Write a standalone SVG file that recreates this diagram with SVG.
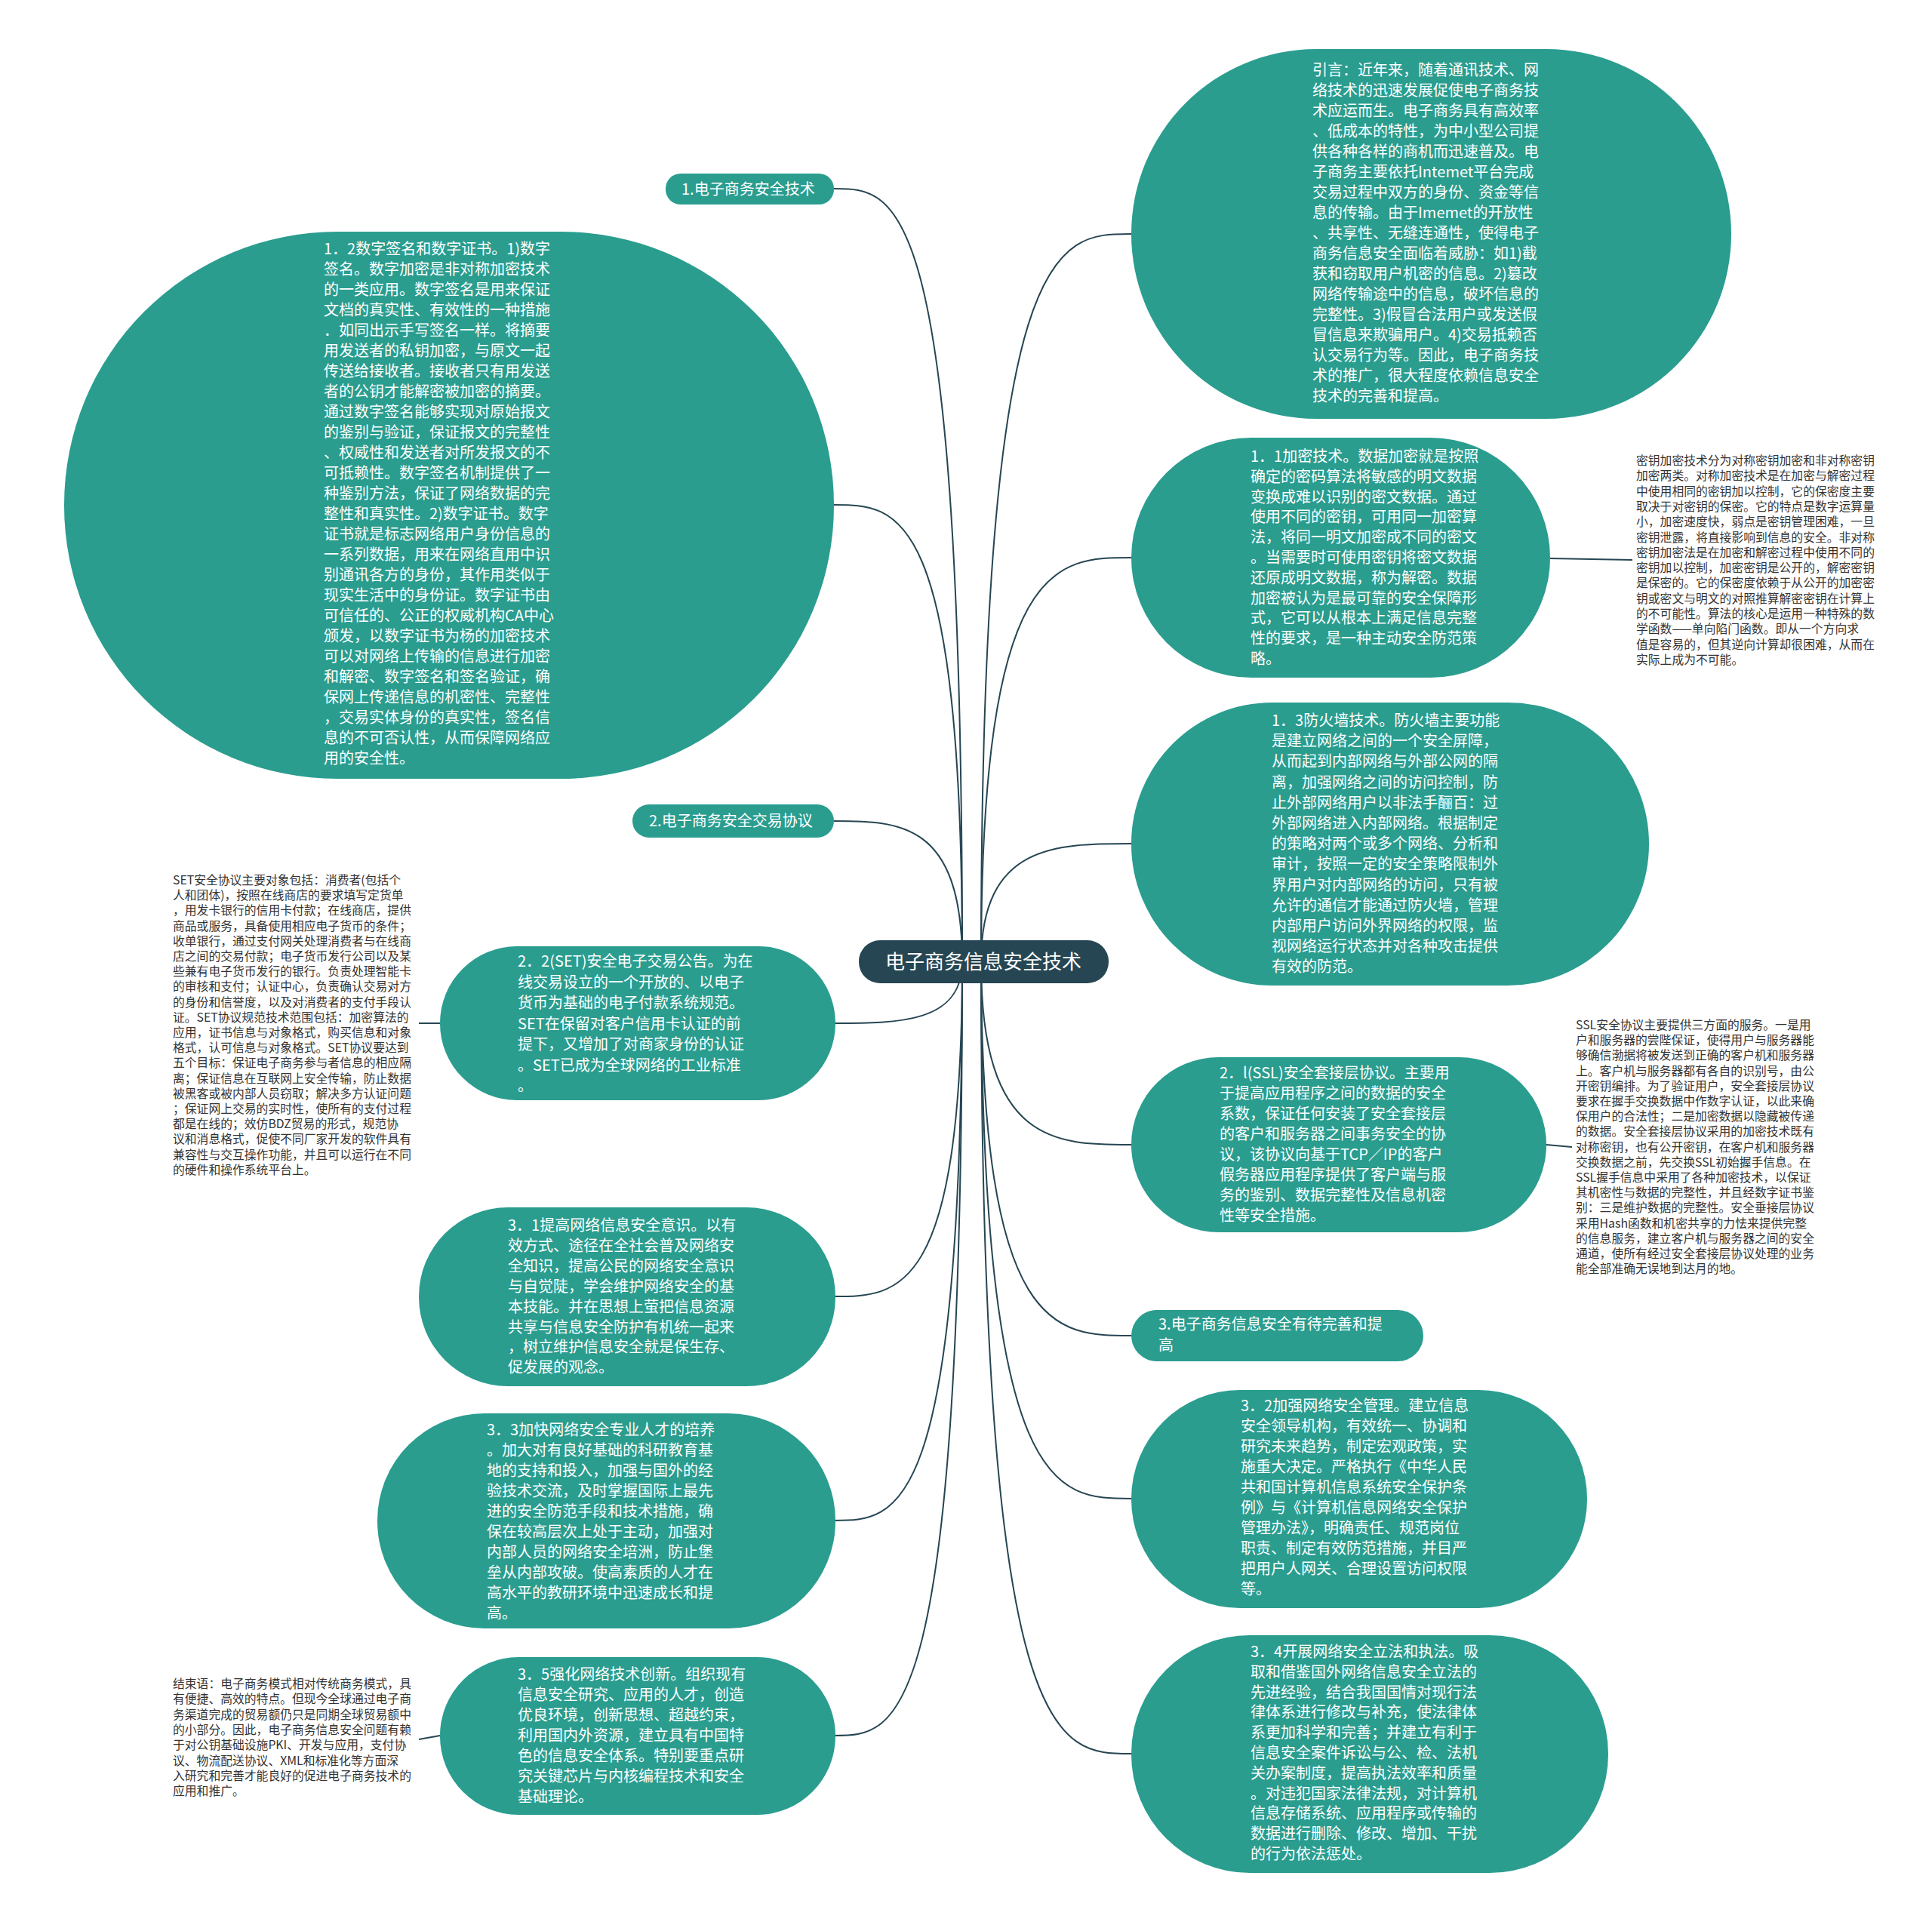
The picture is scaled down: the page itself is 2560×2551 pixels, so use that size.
<svg xmlns="http://www.w3.org/2000/svg" width="2560" height="2551" viewBox="0 0 2560 2551">
<style>
.node{fill:#2a9d8f}
.root{fill:#264653}
.t{font-family:"Noto Sans CJK SC","Noto Sans",sans-serif;font-size:20px;fill:#ffffff}
.rt{font-family:"Noto Sans CJK SC","Noto Sans",sans-serif;font-size:26px;fill:#ffffff}
.n{font-family:"Noto Sans CJK SC","Noto Sans",sans-serif;font-size:15.8px;fill:#333333}
.edge{fill:none;stroke:#264653;stroke-width:2}
</style>
<rect width="2560" height="2551" fill="#ffffff"/>
<g id="connectors">
<path class="edge" d="M1300 1275 C1300 310 1400 310 1499 310"/>
<path class="edge" d="M1300 1275 C1300 739 1400 739 1499 739"/>
<path class="edge" d="M1300 1275 C1300 1118 1400 1118 1499 1118"/>
<path class="edge" d="M1300 1275 C1300 1517 1400 1517 1499 1517"/>
<path class="edge" d="M1300 1275 C1300 1770 1400 1770 1499 1770"/>
<path class="edge" d="M1300 1275 C1300 1986 1400 1986 1499 1986"/>
<path class="edge" d="M1300 1275 C1300 2324 1400 2324 1499 2324"/>
<path class="edge" d="M1275 1275 C1275 250 1190 250 1105 250"/>
<path class="edge" d="M1275 1275 C1275 669 1190 669 1105 669"/>
<path class="edge" d="M1275 1275 C1275 1088 1190 1088 1105 1088"/>
<path class="edge" d="M1275 1275 C1275 1356 1190 1356 1105 1356"/>
<path class="edge" d="M1275 1275 C1275 1718 1190 1718 1105 1718"/>
<path class="edge" d="M1275 1275 C1275 2015 1190 2015 1105 2015"/>
<path class="edge" d="M1275 1275 C1275 2300 1190 2300 1105 2300"/>
<path class="edge" d="M2054 740 L2163 742"/>
<path class="edge" d="M2049 1517 L2083 1520"/>
<path class="edge" d="M555 1356 L583 1356"/>
<path class="edge" d="M555 2305 L583 2300"/>
</g>
<g id="root">
<rect class="root" x="1138" y="1246" width="331" height="57" rx="28"/>
<text class="rt" x="1303" y="1284" text-anchor="middle">电子商务信息安全技术</text>
</g>
<g id="intro">
<rect class="node" x="1499" y="65" width="795" height="490" rx="245"/>
<text class="t" x="1739" y="100"><tspan x="1739">引言：近年来，随着通讯技术、网</tspan><tspan x="1739" dy="27">络技术的迅速发展促使电子商务技</tspan><tspan x="1739" dy="27">术应运而生。电子商务具有高效率</tspan><tspan x="1739" dy="27">、低成本的特性，为中小型公司提</tspan><tspan x="1739" dy="27">供各种各样的商机而迅速普及。电</tspan><tspan x="1739" dy="27">子商务主要依托Intemet平台完成</tspan><tspan x="1739" dy="27">交易过程中双方的身份、资金等信</tspan><tspan x="1739" dy="27">息的传输。由于Imemet的开放性</tspan><tspan x="1739" dy="27">、共享性、无缝连通性，使得电子</tspan><tspan x="1739" dy="27">商务信息安全面临着威胁：如1)截</tspan><tspan x="1739" dy="27">获和窃取用户机密的信息。2)篡改</tspan><tspan x="1739" dy="27">网络传输途中的信息，破坏信息的</tspan><tspan x="1739" dy="27">完整性。3)假冒合法用户或发送假</tspan><tspan x="1739" dy="27">冒信息来欺骗用户。4)交易抵赖否</tspan><tspan x="1739" dy="27">认交易行为等。因此，电子商务技</tspan><tspan x="1739" dy="27">术的推广，很大程度依赖信息安全</tspan><tspan x="1739" dy="27">技术的完善和提高。</tspan></text>
</g>
<g id="n11">
<rect class="node" x="1499" y="580" width="555" height="318" rx="159"/>
<text class="t" x="1657" y="612"><tspan x="1657">1．1加密技术。数据加密就是按照</tspan><tspan x="1657" dy="26.8">确定的密码算法将敏感的明文数据</tspan><tspan x="1657" dy="26.8">变换成难以识别的密文数据。通过</tspan><tspan x="1657" dy="26.8">使用不同的密钥，可用同一加密算</tspan><tspan x="1657" dy="26.8">法，将同一明文加密成不同的密文</tspan><tspan x="1657" dy="26.8">。当需要时可使用密钥将密文数据</tspan><tspan x="1657" dy="26.8">还原成明文数据，称为解密。数据</tspan><tspan x="1657" dy="26.8">加密被认为是最可靠的安全保障形</tspan><tspan x="1657" dy="26.8">式，它可以从根本上满足信息完整</tspan><tspan x="1657" dy="26.8">性的要求，是一种主动安全防范策</tspan><tspan x="1657" dy="26.8">略。</tspan></text>
</g>
<g id="note11">
<text class="n" x="2168" y="616"><tspan x="2168">密钥加密技术分为对称密钥加密和非对称密钥</tspan><tspan x="2168" dy="20.3">加密两类。对称加密技术是在加密与解密过程</tspan><tspan x="2168" dy="20.3">中使用相同的密钥加以控制，它的保密度主要</tspan><tspan x="2168" dy="20.3">取决于对密钥的保密。它的特点是数字运算量</tspan><tspan x="2168" dy="20.3">小，加密速度快，弱点是密钥管理困难，一旦</tspan><tspan x="2168" dy="20.3">密钥泄露，将直接影响到信息的安全。非对称</tspan><tspan x="2168" dy="20.3">密钥加密法是在加密和解密过程中使用不同的</tspan><tspan x="2168" dy="20.3">密钥加以控制，加密密钥是公开的，解密密钥</tspan><tspan x="2168" dy="20.3">是保密的。它的保密度依赖于从公开的加密密</tspan><tspan x="2168" dy="20.3">钥或密文与明文的对照推算解密密钥在计算上</tspan><tspan x="2168" dy="20.3">的不可能性。算法的核心是运用一种特殊的数</tspan><tspan x="2168" dy="20.3">学函数——单向陷门函数。即从一个方向求</tspan><tspan x="2168" dy="20.3">值是容易的，但其逆向计算却很困难，从而在</tspan><tspan x="2168" dy="20.3">实际上成为不可能。</tspan></text>
</g>
<g id="n13">
<rect class="node" x="1499" y="931" width="686" height="375" rx="187"/>
<text class="t" x="1685" y="962"><tspan x="1685">1．3防火墙技术。防火墙主要功能</tspan><tspan x="1685" dy="27.2">是建立网络之间的一个安全屏障，</tspan><tspan x="1685" dy="27.2">从而起到内部网络与外部公网的隔</tspan><tspan x="1685" dy="27.2">离，加强网络之间的访问控制，防</tspan><tspan x="1685" dy="27.2">止外部网络用户以非法手酾百：过</tspan><tspan x="1685" dy="27.2">外部网络进入内部网络。根据制定</tspan><tspan x="1685" dy="27.2">的策略对两个或多个网络、分析和</tspan><tspan x="1685" dy="27.2">审计，按照一定的安全策略限制外</tspan><tspan x="1685" dy="27.2">界用户对内部网络的访问，只有被</tspan><tspan x="1685" dy="27.2">允许的通信才能通过防火墙，管理</tspan><tspan x="1685" dy="27.2">内部用户访问外界网络的权限，监</tspan><tspan x="1685" dy="27.2">视网络运行状态并对各种攻击提供</tspan><tspan x="1685" dy="27.2">有效的防范。</tspan></text>
</g>
<g id="n21">
<rect class="node" x="1499" y="1401" width="550" height="232" rx="116"/>
<text class="t" x="1616" y="1429"><tspan x="1616">2．l(SSL)安全套接层协议。主要用</tspan><tspan x="1616" dy="27">于提高应用程序之间的数据的安全</tspan><tspan x="1616" dy="27">系数，保证任何安装了安全套接层</tspan><tspan x="1616" dy="27">的客户和服务器之间事务安全的协</tspan><tspan x="1616" dy="27">议，该协议向基于TCP／IP的客户</tspan><tspan x="1616" dy="27">假务器应用程序提供了客户端与服</tspan><tspan x="1616" dy="27">务的鉴别、数据完整性及信息机密</tspan><tspan x="1616" dy="27">性等安全措施。</tspan></text>
</g>
<g id="note21">
<text class="n" x="2088" y="1364"><tspan x="2088">SSL安全协议主要提供三方面的服务。一是用</tspan><tspan x="2088" dy="20.2">户和服务器的尝陛保证，使得用户与服务器能</tspan><tspan x="2088" dy="20.2">够确信渤据将被发送到正确的客户机和服务器</tspan><tspan x="2088" dy="20.2">上。客户机与服务器都有各自的识别号，由公</tspan><tspan x="2088" dy="20.2">开密钥编排。为了验证用户，安全套接层协议</tspan><tspan x="2088" dy="20.2">要求在握手交换数据中作数字认证，以此来确</tspan><tspan x="2088" dy="20.2">保用户的合法性；二是加密数据以隐藏被传递</tspan><tspan x="2088" dy="20.2">的数据。安全套接层协议采用的加密技术既有</tspan><tspan x="2088" dy="20.2">对称密钥，也有公开密钥，在客户机和服务器</tspan><tspan x="2088" dy="20.2">交换数据之前，先交换SSL初始握手信息。在</tspan><tspan x="2088" dy="20.2">SSL握手信息中采用了各种加密技术，以保证</tspan><tspan x="2088" dy="20.2">其机密性与数据的完整性，并且经数字证书鉴</tspan><tspan x="2088" dy="20.2">别：三是维护数据的完整性。安全垂接层协议</tspan><tspan x="2088" dy="20.2">采用Hash函数和机密共享的力怯来提供完整</tspan><tspan x="2088" dy="20.2">的信息服务，建立客户机与服务器之间的安全</tspan><tspan x="2088" dy="20.2">通道，使所有经过安全套接层协议处理的业务</tspan><tspan x="2088" dy="20.2">能全部准确无误地到达月的地。</tspan></text>
</g>
<g id="b3">
<rect class="node" x="1499" y="1736" width="387" height="68" rx="34"/>
<text class="t" x="1535" y="1762"><tspan x="1535">3.电子商务信息安全有待完善和提</tspan><tspan x="1535" dy="28">高</tspan></text>
</g>
<g id="n32">
<rect class="node" x="1499" y="1842" width="604" height="289" rx="144"/>
<text class="t" x="1644" y="1870"><tspan x="1644">3．2加强网络安全管理。建立信息</tspan><tspan x="1644" dy="27">安全领导机构，有效统一、协调和</tspan><tspan x="1644" dy="27">研究未来趋势，制定宏观政策，实</tspan><tspan x="1644" dy="27">施重大决定。严格执行《中华人民</tspan><tspan x="1644" dy="27">共和国计算机信息系统安全保护条</tspan><tspan x="1644" dy="27">例》与《计算机信息网络安全保护</tspan><tspan x="1644" dy="27">管理办法》，明确责任、规范岗位</tspan><tspan x="1644" dy="27">职责、制定有效防范措施，并目严</tspan><tspan x="1644" dy="27">把用户人网关、合理设置访问权限</tspan><tspan x="1644" dy="27">等。</tspan></text>
</g>
<g id="n34">
<rect class="node" x="1499" y="2167" width="632" height="315" rx="157"/>
<text class="t" x="1657" y="2196"><tspan x="1657">3．4开展网络安全立法和执法。吸</tspan><tspan x="1657" dy="26.8">取和借鉴国外网络信息安全立法的</tspan><tspan x="1657" dy="26.8">先进经验，结合我国国情对现行法</tspan><tspan x="1657" dy="26.8">律体系进行修改与补充，使法律体</tspan><tspan x="1657" dy="26.8">系更加科学和完善；并建立有利于</tspan><tspan x="1657" dy="26.8">信息安全案件诉讼与公、检、法机</tspan><tspan x="1657" dy="26.8">关办案制度，提高执法效率和质量</tspan><tspan x="1657" dy="26.8">。对违犯国家法律法规，对计算机</tspan><tspan x="1657" dy="26.8">信息存储系统、应用程序或传输的</tspan><tspan x="1657" dy="26.8">数据进行删除、修改、增加、干扰</tspan><tspan x="1657" dy="26.8">的行为依法惩处。</tspan></text>
</g>
<g id="b1">
<rect class="node" x="882" y="230" width="223" height="41" rx="20"/>
<text class="t" x="903" y="258">1.电子商务安全技术</text>
</g>
<g id="n12">
<rect class="node" x="85" y="307" width="1020" height="725" rx="362"/>
<text class="t" x="429" y="337"><tspan x="429">1．2数字签名和数字证书。1)数字</tspan><tspan x="429" dy="27">签名。数字加密是非对称加密技术</tspan><tspan x="429" dy="27">的一类应用。数字签名是用来保证</tspan><tspan x="429" dy="27">文档的真实性、有效性的一种措施</tspan><tspan x="429" dy="27">．如同出示手写签名一样。将摘要</tspan><tspan x="429" dy="27">用发送者的私钥加密，与原文一起</tspan><tspan x="429" dy="27">传送给接收者。接收者只有用发送</tspan><tspan x="429" dy="27">者的公钥才能解密被加密的摘要。</tspan><tspan x="429" dy="27">通过数字签名能够实现对原始报文</tspan><tspan x="429" dy="27">的鉴别与验证，保证报文的完整性</tspan><tspan x="429" dy="27">、权威性和发送者对所发报文的不</tspan><tspan x="429" dy="27">可抵赖性。数字签名机制提供了一</tspan><tspan x="429" dy="27">种鉴别方法，保证了网络数据的完</tspan><tspan x="429" dy="27">整性和真实性。2)数字证书。数字</tspan><tspan x="429" dy="27">证书就是标志网络用户身份信息的</tspan><tspan x="429" dy="27">一系列数据，用来在网络直用中识</tspan><tspan x="429" dy="27">别通讯各方的身份，其作用类似于</tspan><tspan x="429" dy="27">现实生活中的身份证。数字证书由</tspan><tspan x="429" dy="27">可信任的、公正的权威机构CA中心</tspan><tspan x="429" dy="27">颁发，以数字证书为杨的加密技术</tspan><tspan x="429" dy="27">可以对网络上传输的信息进行加密</tspan><tspan x="429" dy="27">和解密、数字签名和签名验证，确</tspan><tspan x="429" dy="27">保网上传递信息的机密性、完整性</tspan><tspan x="429" dy="27">，交易实体身份的真实性，签名信</tspan><tspan x="429" dy="27">息的不可否认性，从而保障网络应</tspan><tspan x="429" dy="27">用的安全性。</tspan></text>
</g>
<g id="b2">
<rect class="node" x="838" y="1066" width="267" height="44" rx="22"/>
<text class="t" x="860" y="1095">2.电子商务安全交易协议</text>
</g>
<g id="n22">
<rect class="node" x="583" y="1254" width="524" height="204" rx="102"/>
<text class="t" x="686" y="1281"><tspan x="686">2．2(SET)安全电子交易公告。为在</tspan><tspan x="686" dy="27.5">线交易设立的一个开放的、以电子</tspan><tspan x="686" dy="27.5">货币为基础的电子付款系统规范。</tspan><tspan x="686" dy="27.5">SET在保留对客户信用卡认证的前</tspan><tspan x="686" dy="27.5">提下，又增加了对商家身份的认证</tspan><tspan x="686" dy="27.5">。SET已成为全球网络的工业标准</tspan><tspan x="686" dy="27.5">。</tspan></text>
</g>
<g id="note22">
<text class="n" x="229" y="1172"><tspan x="229">SET安全协议主要对象包括：消费者(包括个</tspan><tspan x="229" dy="20.2">人和团体)，按照在线商店的要求填写定货单</tspan><tspan x="229" dy="20.2">，用发卡银行的信用卡付款；在线商店，提供</tspan><tspan x="229" dy="20.2">商品或服务，具备使用相应电子货币的条件；</tspan><tspan x="229" dy="20.2">收单银行，通过支付网关处理消费者与在线商</tspan><tspan x="229" dy="20.2">店之间的交易付款；电子货币发行公司以及某</tspan><tspan x="229" dy="20.2">些兼有电子货币发行的银行。负责处理智能卡</tspan><tspan x="229" dy="20.2">的审核和支付；认证中心，负责确认交易对方</tspan><tspan x="229" dy="20.2">的身份和信誉度，以及对消费者的支付手段认</tspan><tspan x="229" dy="20.2">证。SET协议规范技术范围包括：加密算法的</tspan><tspan x="229" dy="20.2">应用，证书信息与对象格式，购买信息和对象</tspan><tspan x="229" dy="20.2">格式，认可信息与对象格式。SET协议要达到</tspan><tspan x="229" dy="20.2">五个目标：保证电子商务参与者信息的相应隔</tspan><tspan x="229" dy="20.2">离；保证信息在互联网上安全传输，防止数据</tspan><tspan x="229" dy="20.2">被黑客或被内部人员窃取；解决多方认证问题</tspan><tspan x="229" dy="20.2">；保证网上交易的实时性，使所有的支付过程</tspan><tspan x="229" dy="20.2">都是在线的；效仿BDZ贸易的形式，规范协</tspan><tspan x="229" dy="20.2">议和消息格式，促使不同厂家开发的软件具有</tspan><tspan x="229" dy="20.2">兼容性与交互操作功能，并且可以运行在不同</tspan><tspan x="229" dy="20.2">的硬件和操作系统平台上。</tspan></text>
</g>
<g id="n31">
<rect class="node" x="555" y="1600" width="552" height="237" rx="118"/>
<text class="t" x="673" y="1631"><tspan x="673">3．1提高网络信息安全意识。以有</tspan><tspan x="673" dy="26.9">效方式、途径在全社会普及网络安</tspan><tspan x="673" dy="26.9">全知识，提高公民的网络安全意识</tspan><tspan x="673" dy="26.9">与自觉陡，学会维护网络安全的基</tspan><tspan x="673" dy="26.9">本技能。并在思想上萤把信息资源</tspan><tspan x="673" dy="26.9">共享与信息安全防护有机统一起来</tspan><tspan x="673" dy="26.9">，树立维护信息安全就是保生存、</tspan><tspan x="673" dy="26.9">促发展的观念。</tspan></text>
</g>
<g id="n33">
<rect class="node" x="500" y="1873" width="607" height="285" rx="142"/>
<text class="t" x="645" y="1902"><tspan x="645">3．3加快网络安全专业人才的培养</tspan><tspan x="645" dy="27">。加大对有良好基础的科研教育基</tspan><tspan x="645" dy="27">地的支持和投入，加强与国外的经</tspan><tspan x="645" dy="27">验技术交流，及时掌握国际上最先</tspan><tspan x="645" dy="27">进的安全防范手段和技术措施，确</tspan><tspan x="645" dy="27">保在较高层次上处于主动，加强对</tspan><tspan x="645" dy="27">内部人员的网络安全培洲，防止堡</tspan><tspan x="645" dy="27">垒从内部攻破。使高素质的人才在</tspan><tspan x="645" dy="27">高水平的教研环境中迅速成长和提</tspan><tspan x="645" dy="27">高。</tspan></text>
</g>
<g id="n35">
<rect class="node" x="583" y="2196" width="524" height="209" rx="104"/>
<text class="t" x="686" y="2226"><tspan x="686">3．5强化网络技术创新。组织现有</tspan><tspan x="686" dy="27">信息安全研究、应用的人才，创造</tspan><tspan x="686" dy="27">优良环境，创新思想、超越约束，</tspan><tspan x="686" dy="27">利用国内外资源，建立具有中国特</tspan><tspan x="686" dy="27">色的信息安全体系。特别要重点研</tspan><tspan x="686" dy="27">究关键芯片与内核编程技术和安全</tspan><tspan x="686" dy="27">基础理论。</tspan></text>
</g>
<g id="note35">
<text class="n" x="229" y="2237"><tspan x="229">结束语：电子商务模式相对传统商务模式，具</tspan><tspan x="229" dy="20.3">有便捷、高效的特点。但现今全球通过电子商</tspan><tspan x="229" dy="20.3">务渠道完成的贸易额仍只是同期全球贸易额中</tspan><tspan x="229" dy="20.3">的小部分。因此，电子商务信息安全问题有赖</tspan><tspan x="229" dy="20.3">于对公钥基础设施PKI、开发与应用，支付协</tspan><tspan x="229" dy="20.3">议、物流配送协议、XML和标准化等方面深</tspan><tspan x="229" dy="20.3">入研究和完善才能良好的促进电子商务技术的</tspan><tspan x="229" dy="20.3">应用和推广。</tspan></text>
</g>
</svg>
